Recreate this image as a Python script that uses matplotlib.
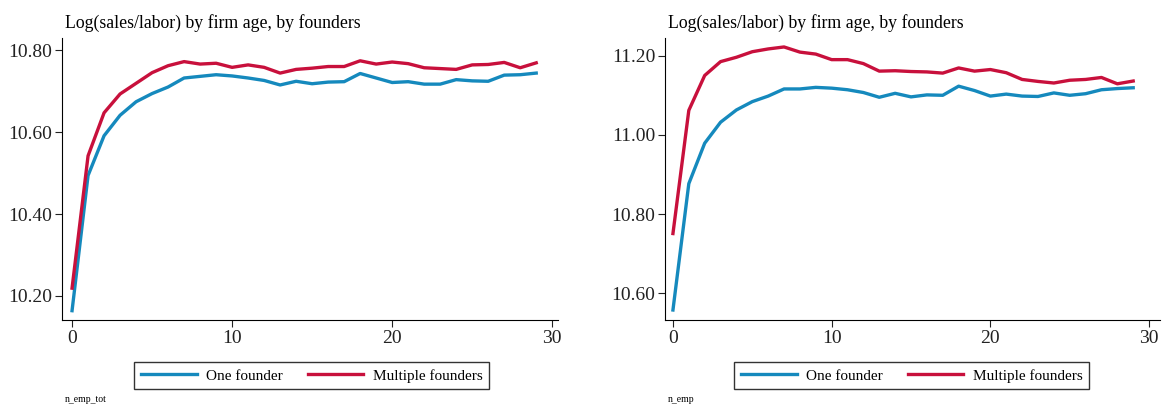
import matplotlib.pyplot as plt

# Datos (edad de la empresa 0..29)
edad = list(range(30))

# Panel izquierdo: n_emp_tot
uno_izq = [10.164, 10.494, 10.591, 10.641, 10.674, 10.694, 10.710, 10.732, 10.736, 10.740,
           10.737, 10.732, 10.726, 10.715, 10.724, 10.718, 10.722, 10.723, 10.743, 10.732,
           10.721, 10.723, 10.717, 10.717, 10.728, 10.725, 10.724, 10.739, 10.740, 10.744]
multi_izq = [10.219, 10.542, 10.647, 10.693, 10.719, 10.745, 10.762, 10.772, 10.766, 10.768,
             10.758, 10.764, 10.758, 10.744, 10.753, 10.756, 10.760, 10.760, 10.774, 10.766,
             10.771, 10.767, 10.757, 10.755, 10.753, 10.764, 10.765, 10.770, 10.757, 10.769]

# Panel derecho: n_emp
uno_der = [10.558, 10.877, 10.979, 11.032, 11.063, 11.084, 11.098, 11.116, 11.116, 11.120,
           11.118, 11.114, 11.107, 11.095, 11.105, 11.096, 11.101, 11.100, 11.123, 11.112,
           11.098, 11.103, 11.098, 11.097, 11.106, 11.100, 11.104, 11.114, 11.117, 11.119]
multi_der = [10.751, 11.062, 11.150, 11.185, 11.196, 11.210, 11.217, 11.222, 11.209, 11.204,
             11.190, 11.190, 11.180, 11.161, 11.162, 11.160, 11.159, 11.156, 11.169, 11.161,
             11.165, 11.157, 11.140, 11.135, 11.131, 11.138, 11.140, 11.145, 11.129, 11.136]

yticks_izq = [10.20, 10.40, 10.60, 10.80]
yticks_der = [10.60, 10.80, 11.00, 11.20]
xticks = [0, 10, 20, 30]

titulo = "Log(sales/labor) by firm age, by founders"
etiquetas = ["One founder", "Multiple founders"]
color_uno = "#1589bd"
color_multi = "#c8103c"

plt.rcParams['font.family'] = ['Liberation Serif', 'DejaVu Serif']

fig = plt.figure(figsize=(11.62, 4.07), dpi=100)

paneles = [
    ([0.0534, 0.214, 0.427, 0.693], uno_izq, multi_izq, yticks_izq, (-0.625, 30.375), (10.1415, 10.830), "n_emp_tot", 0.503),
    ([0.5723, 0.214, 0.426, 0.693], uno_der, multi_der, yticks_der, (-0.5, 30.69), (10.533, 11.245), "n_emp", 0.498),
]

for pos, uno, multi, yt, xl, yl, nota, leg_x in paneles:
    ax = fig.add_axes(pos)
    l1, = ax.plot(edad, uno, color=color_uno, linewidth=2.4, label=etiquetas[0])
    l2, = ax.plot(edad, multi, color=color_multi, linewidth=2.4, label=etiquetas[1])
    ax.set_xlim(*xl)
    ax.set_ylim(*yl)
    ax.set_xticks(xticks)
    ax.set_yticks(yt)
    ax.set_yticklabels([f"{v:.2f}" for v in yt])
    ax.spines['top'].set_visible(False)
    ax.spines['right'].set_visible(False)
    ax.tick_params(labelsize=14, length=5, width=0.8, colors='#222222', pad=2)
    ax.text(0.006, 1.02, titulo, transform=ax.transAxes, fontsize=12.8, ha='left', va='bottom')
    leg = ax.legend(handles=[l1, l2], loc='upper center', bbox_to_anchor=(leg_x, -0.122), ncol=2,
                    frameon=True, fancybox=False, fontsize=11, handlelength=3.65,
                    handletextpad=0.6, columnspacing=1.65, borderpad=0.45, edgecolor='black')
    leg.get_frame().set_linewidth(1.0)
    ax.text(0.005, -0.283, nota, transform=ax.transAxes, fontsize=7, ha='left', va='center')

plt.savefig("out.png", dpi=100)
plt.close(fig)
